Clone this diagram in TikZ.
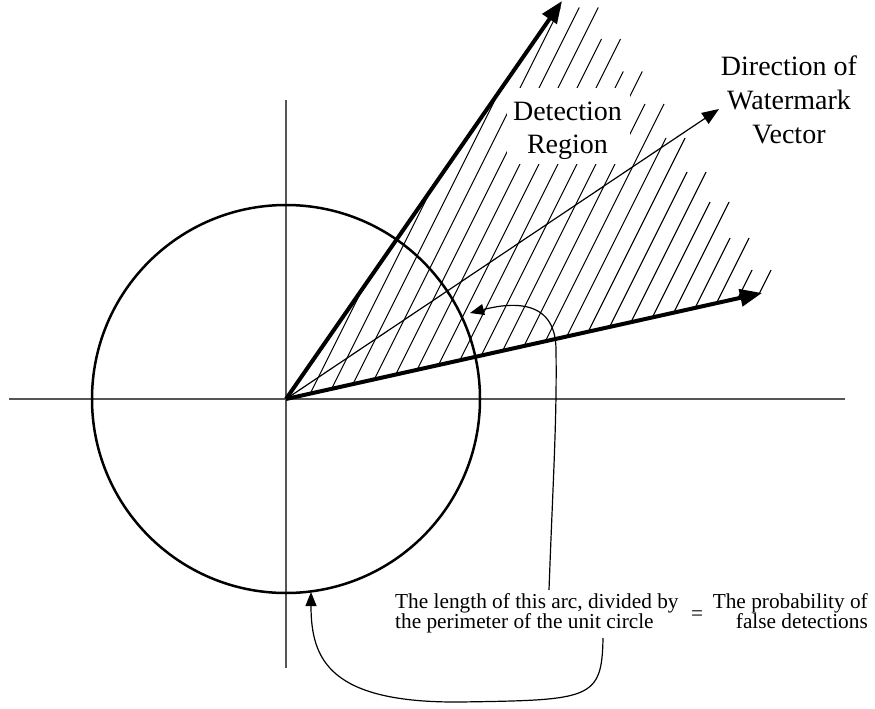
\documentclass[tikz,border=0pt]{standalone}
\usepackage{fontspec}
\setmainfont{Liberation Serif}
\usetikzlibrary{arrows.meta}
\definecolor{axisgray}{RGB}{85,85,85}
\begin{document}
\begin{tikzpicture}[x=1pt,y=-1pt,
  hatchline/.style={black, line width=1.1pt},
  haxis/.style={axisgray, line width=1.8pt},
  vaxis/.style={axisgray, line width=1.1pt},
  circline/.style={black, line width=2.5pt},
  bigvec/.style={black, line width=4pt, -{Triangle[length=22pt,width=17pt]}},
  thinvec/.style={black, line width=1.2pt, -{Triangle[length=17pt,width=13pt]}},
  curvearrow/.style={black, line width=1.2pt, -{Triangle[length=14pt,width=11pt]}},
  biglbl/.style={inner sep=0pt, font=\fontsize{28}{34}\selectfont},
  smalllbl/.style={inner sep=0pt, font=\fontsize{21.3}{20}\selectfont}
]
\useasboundingbox (0,0) rectangle (875,709);

% named points
\coordinate (O) at (286,399);
\coordinate (tipUp) at (562,1);
\coordinate (tipLow) at (762,293);
\coordinate (tipW) at (719,109);
\coordinate (hL) at (9,399);
\coordinate (hR) at (845,399);
\coordinate (vT) at (286,100);
\coordinate (vB) at (286,668);

% hatching of the detection region
\foreach \k/\yt in {1/7.5,2/7.5,3/7.5,4/7.5,5/7.5,6/7.5,7/39,8/39,9/71.5,10/71.5,11/104,12/104,13/138,14/138,15/172,16/172,17/202,18/202,19/238,20/238,21/270,22/270}{
  \pgfmathsetmacro\cc{288.5+19*\k}
  \pgfmathsetmacro\ub{(\cc-286)*0.2506}
  \pgfmathsetmacro\ua{min((\cc-286)/0.1935, 399-\yt)}
  \draw[hatchline] ({\cc+\ub/2},{399-\ub}) -- ({\cc+\ua/2},{399-\ua});
}

% white box behind "Detection Region"
\fill[white] (507,88) rectangle (630,164);

% axes
\draw[haxis] (hL) -- (hR);
\draw[vaxis] (vT) -- (vB);

% unit circle
\draw[circline] (O) circle[radius=194pt];

% vectors
\draw[bigvec] (O) -- (tipUp);
\draw[bigvec] (O) -- (tipLow);
\draw[thinvec] (O) -- (tipW);

% labels
\node[biglbl, anchor=base] (det1) at (567.5,120) {Detection};
\node[biglbl, anchor=base] (det2) at (567.5,153) {Region};
\node[biglbl, anchor=base] (dir1) at (789,75) {Direction of};
\node[biglbl, anchor=base] (dir2) at (789,109) {Watermark};
\node[biglbl, anchor=base] (dir3) at (789,143) {Vector};

\node[smalllbl, anchor=base west] (arc1) at (395,608) {The length of this arc, divided by};
\node[smalllbl, anchor=base west] (arc2) at (395,628) {the perimeter of the unit circle};
\node[smalllbl, anchor=center] (eq) at (697,616) {=};
\node[smalllbl, anchor=base east] (prob1) at (868,608) {The probability of};
\node[smalllbl, anchor=base east] (prob2) at (868,628) {false detections};

% curved pointers
\coordinate (c1s) at (549,590);
\coordinate (c1m) at (556,350);
\coordinate (c1e) at (470,313);
\draw[curvearrow] (c1s) .. controls (553,480) and (557,420) .. (c1m)
  .. controls (556,295) and (505,304) .. (c1e);

\coordinate (c2s) at (603,638);
\coordinate (c2m) at (460,702);
\coordinate (c2e) at (311,592);
\draw[curvearrow] (c2s) .. controls (602,700) and (590,700) .. (c2m)
  .. controls (330,703) and (311,660) .. (c2e);
\end{tikzpicture}
\end{document}
